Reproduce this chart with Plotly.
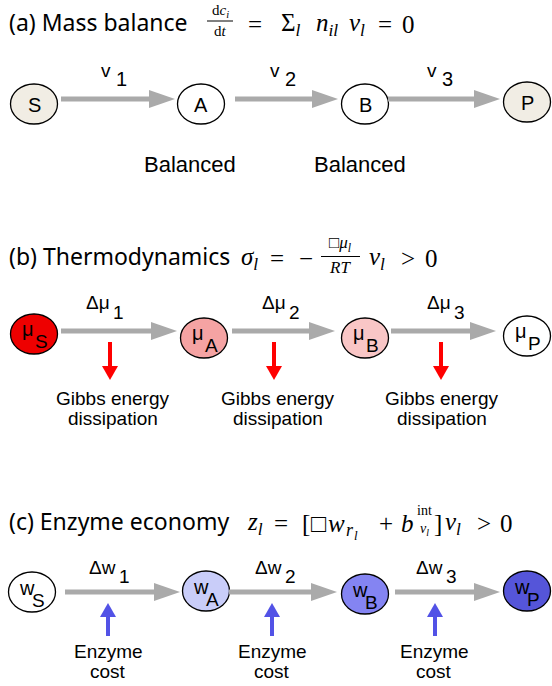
import plotly.graph_objects as go

# ---------------- data ----------------
mass_nodes = ["S", "A", "B", "P"]
mass_fill = ["#f1ede4", "#ffffff", "#ffffff", "#f1ede4"]
mass_flux = ["v", "v", "v"]
reaction_idx = ["1", "2", "3"]
mass_notes = ["Balanced", "Balanced"]

thermo_symbol = "μ"
thermo_nodes = ["S", "A", "B", "P"]
thermo_fill = ["#ee0000", "#f5a3a3", "#f9c6c6", "#ffffff"]
thermo_edge = "Δμ"
thermo_note = ["Gibbs energy", "dissipation"]

enzyme_symbol = "w"
enzyme_nodes = ["S", "A", "B", "P"]
enzyme_fill = ["#ffffff", "#c9cdf9", "#8484f2", "#5555d9"]
enzyme_edge = "Δw"
enzyme_note = ["Enzyme", "cost"]

titles = ["(a) Mass balance", "(b) Thermodynamics", "(c) Enzyme economy"]

# ---------------- layout (pixel coordinates) ----------------
W, H = 552, 686
RX, RY = 23.5, 20
GRAY = "#aaaaaa"
RED = "#ff0000"
BLUE = "#5252e6"
SANS = "Liberation Sans"
TITLE_FONT = "Noto Sans"
SERIF = "Liberation Serif"
MS = 25  # math font size

shapes = []
annotations = []


def text(x, y, s, size, family=SANS, xanchor="center", yanchor="middle", color="black"):
    annotations.append(dict(x=x, y=y, xref="x", yref="y", text=s, showarrow=False,
                            xanchor=xanchor, yanchor=yanchor, borderpad=0,
                            font=dict(family=family, size=size, color=color)))


def hline(x0, x1, y):
    shapes.append(dict(type="line", xref="x", yref="y", x0=x0, x1=x1, y0=y, y1=y,
                       line=dict(color="black", width=1)))


def node(cx, cy, fill):
    shapes.append(dict(type="circle", xref="x", yref="y", x0=cx - RX, x1=cx + RX,
                       y0=cy - RY, y1=cy + RY, fillcolor=fill,
                       line=dict(color="black", width=1.3), layer="above"))


def harrow(x0, x1, y, color=GRAY, width=5, hl=26, hw=9):
    shapes.append(dict(type="line", xref="x", yref="y", x0=x0, x1=x1 - hl + 2, y0=y, y1=y,
                       line=dict(color=color, width=width), layer="above"))
    shapes.append(dict(type="path", xref="x", yref="y",
                       path=f"M {x1-hl},{y-hw} L {x1},{y} L {x1-hl},{y+hw} Z",
                       fillcolor=color, line=dict(width=0), layer="above"))


def varrow(x, y_from, y_to, color, width=4, hl=14, hw=8):
    d = 1 if y_to > y_from else -1
    base = y_to - d * hl
    shapes.append(dict(type="line", xref="x", yref="y", x0=x, x1=x, y0=y_from, y1=base + d * 1,
                       line=dict(color=color, width=width), layer="above"))
    shapes.append(dict(type="path", xref="x", yref="y",
                       path=f"M {x-hw},{base} L {x},{y_to} L {x+hw},{base} Z",
                       fillcolor=color, line=dict(width=0), layer="above"))


def tokens(items, y, size=MS):
    for s, x in items:
        text(x, y, s, size, SERIF, "center")


def fraction(cx, y_bar, x0, x1, num, den, size):
    text(cx, y_bar - 0.5, num, size, SERIF, "center", "bottom")
    hline(x0, x1, y_bar)
    text(cx, y_bar + 0.5, den, size, SERIF, "center", "top")


# ---------------- titles ----------------
TS = 23
text(8, 22, titles[0], TS, TITLE_FONT, "left")
fraction(220, 21, 207, 233, "d<i>c</i><sub><i>i</i></sub>", "d<i>t</i>", 15)
tokens([("=", 254.5), ("Σ<sub><i>l</i></sub>", 290.5), ("<i>n</i><sub><i>il</i></sub>", 327),
        ("<i>v</i><sub><i>l</i></sub>", 357), ("=", 385), ("0", 408.5)], 24)

text(8, 256, titles[1], TS, TITLE_FONT, "left")
tokens([("<i>σ</i><sub><i>l</i></sub>", 249), ("=", 277), ("−", 306),
        ("<i>v</i><sub><i>l</i></sub>", 377), (">", 408), ("0", 431)], 258)
fraction(340, 256.5, 321, 360, "□<i>μ</i><sub><i>l</i></sub>", "<i>RT</i>", 17)

text(8, 521, titles[2], TS, TITLE_FONT, "left")
tokens([("<i>z</i><sub><i>l</i></sub>", 254.5), ("=", 281), ("[", 305.5), ("□", 318.5),
        ("<i>w</i>", 336), ("+", 386), ("<i>b</i>", 407.5), ("]", 437.5),
        ("<i>v</i><sub><i>l</i></sub>", 452.5), (">", 483.5), ("0", 506)], 523)
text(345, 530, "<i>r</i>", 18, SERIF, "left")
text(353, 535, "<i>l</i>", 13, SERIF, "left")
text(424, 510, "int", 14, SERIF)
text(424, 529, "<i>v</i><sub><i>l</i></sub>", 14, SERIF)

# ---------------- (a) mass balance ----------------
a_x = [34, 201, 365, 527]
a_y = [104, 104, 104, 102]
a_arrows = [(61, 175), (235, 338), (388, 500)]
a_lab_x = [106, 275, 432]
a_note_x = [190, 360]
for i, lab in enumerate(mass_nodes):
    node(a_x[i], a_y[i], mass_fill[i])
    text(a_x[i], a_y[i] + 1, lab, 20)
for i, (x0, x1) in enumerate(a_arrows):
    harrow(x0, x1, 99)
    text(a_lab_x[i], 70, mass_flux[i], 19)
    text(a_lab_x[i] + 15, 79, reaction_idx[i], 20)
for i, s in enumerate(mass_notes):
    text(a_note_x[i], 164, s, 22)

# ---------------- (b) thermodynamics ----------------
b_x = [34, 204, 365, 527]
b_y = [334, 338, 338, 336]
b_arrows = [(61, 177), (232, 335), (391, 496)]
b_lab_x = [98, 274, 439]
b_red_x = [110, 274, 441]
b_note_x = [113, 278, 442]
for i, lab in enumerate(thermo_nodes):
    node(b_x[i], b_y[i], thermo_fill[i])
    text(b_x[i] - 6, b_y[i] - 5, thermo_symbol, 20)
    text(b_x[i] + 7, b_y[i] + 7, lab, 19)
for i, (x0, x1) in enumerate(b_arrows):
    harrow(x0, x1, 331)
    text(b_lab_x[i], 302, thermo_edge, 19)
    text(b_lab_x[i] + 20, 312, reaction_idx[i], 19)
    varrow(b_red_x[i], 342, 380, RED)
    text(b_note_x[i], 398.5, thermo_note[0], 19)
    text(b_note_x[i], 418, thermo_note[1], 19)

# ---------------- (c) enzyme economy ----------------
c_x = [32, 206, 365, 527]
c_y = [592, 591, 594, 591]
c_arrows = [(65, 180), (229, 337), (395, 500)]
c_lab_x = [102, 268, 429]
c_blue_x = [108, 272, 435]
c_note_x = [108, 272, 434]
for i, lab in enumerate(enzyme_nodes):
    node(c_x[i], c_y[i], enzyme_fill[i])
    text(c_x[i] - 5, c_y[i] - 4, enzyme_symbol, 20)
    text(c_x[i] + 6, c_y[i] + 8, lab, 19)
for i, (x0, x1) in enumerate(c_arrows):
    harrow(x0, x1, 592)
    text(c_lab_x[i], 567, enzyme_edge, 19)
    text(c_lab_x[i] + 22, 576, reaction_idx[i], 19)
    varrow(c_blue_x[i], 636, 603, BLUE)
    text(c_note_x[i], 651, enzyme_note[0], 19)
    text(c_note_x[i], 671, enzyme_note[1], 19)

fig = go.Figure()
fig.add_trace(go.Scatter(x=[0, W], y=[0, H], mode="markers", marker=dict(opacity=0),
                         hoverinfo="skip", showlegend=False))
fig.update_layout(
    width=W, height=H, margin=dict(l=0, r=0, t=0, b=0),
    paper_bgcolor="white", plot_bgcolor="white",
    xaxis=dict(range=[0, W], visible=False, fixedrange=True),
    yaxis=dict(range=[H, 0], visible=False, fixedrange=True),
    shapes=shapes, annotations=annotations, showlegend=False,
)
fig.write_html("out.html", config={"displayModeBar": False},
               post_script="document.body.style.margin='0px';document.body.style.overflow='hidden';")
